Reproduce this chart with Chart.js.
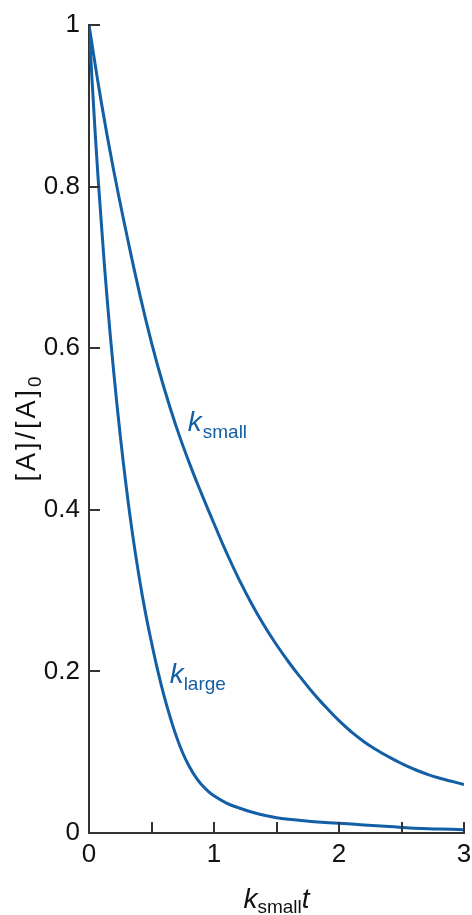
<!DOCTYPE html>
<html>
<head>
<meta charset="utf-8">
<script src="https://cdn.jsdelivr.net/npm/chart.js@4"></script>
<style>
  html, body { margin: 0; padding: 0; background: #fff; }
  #wrap { width: 472px; height: 915px; position: relative; }
</style>
</head>
<body>
<div id="wrap"><canvas id="c"></canvas></div>
<script>
// ---- data ----
const xSmall = [0, 0.1, 0.2, 0.3, 0.4, 0.5, 0.6, 0.7, 0.8, 0.9, 1.0, 1.1, 1.2, 1.3, 1.4, 1.5, 1.6, 1.7, 1.8, 1.9, 2.0, 2.1, 2.2, 2.3, 2.4, 2.5, 2.6, 2.7, 2.8, 2.9, 3.0];
const ySmall = [1.0, 0.903, 0.818, 0.742, 0.671, 0.607, 0.551, 0.502, 0.459, 0.420, 0.383, 0.347, 0.314, 0.284, 0.257, 0.233, 0.211, 0.191, 0.172, 0.155, 0.139, 0.125, 0.113, 0.103, 0.094, 0.086, 0.079, 0.073, 0.068, 0.064, 0.06];

const xLarge = [0, 0.05, 0.1, 0.15, 0.2, 0.25, 0.3, 0.35, 0.4, 0.45, 0.5, 0.55, 0.6, 0.65, 0.7, 0.75, 0.8, 0.85, 0.9, 0.95, 1.0, 1.1, 1.2, 1.3, 1.4, 1.5, 1.6, 1.8, 2.0, 2.2, 2.4, 2.6, 2.8, 3.0];
const yLarge = [1.0, 0.865, 0.752, 0.652, 0.567, 0.492, 0.426, 0.368, 0.318, 0.274, 0.236, 0.201, 0.170, 0.143, 0.119, 0.099, 0.083, 0.070, 0.060, 0.052, 0.046, 0.037, 0.031, 0.026, 0.022, 0.019, 0.017, 0.014, 0.012, 0.010, 0.008, 0.006, 0.005, 0.004];

const yTicks = [0, 0.2, 0.4, 0.6, 0.8, 1];
const xTicks = [0, 0.5, 1, 1.5, 2, 2.5, 3];
const xTickLabels = [0, 1, 2, 3];
const seriesNames = ['small', 'large'];

const BLUE = '#135fa5';
const AXIS = '#333333';
const FONT = '"Liberation Sans", Arial, Helvetica, sans-serif';

function pts(xs, ys) { return xs.map((x, i) => ({ x: x, y: ys[i] })); }

function drawRich(ctx, parts, x, y) {
  let cx = x;
  parts.forEach(p => {
    ctx.font = p.font;
    ctx.letterSpacing = p.ls || '0px';
    ctx.fillText(p.text, cx, y + (p.dy || 0));
    cx += ctx.measureText(p.text).width + (p.gap || 0);
  });
  ctx.letterSpacing = '0px';
  return cx - x;
}
function richWidth(ctx, parts) {
  let w = 0;
  parts.forEach(p => {
    ctx.font = p.font;
    ctx.letterSpacing = p.ls || '0px';
    w += ctx.measureText(p.text).width + (p.gap || 0);
  });
  ctx.letterSpacing = '0px';
  return w;
}

const decor = {
  id: 'decor',
  afterDraw(chart) {
    const ctx = chart.ctx;
    const xs = chart.scales.x, ys = chart.scales.y;
    const ca = chart.chartArea;
    ctx.save();
    // inward tick marks
    ctx.strokeStyle = AXIS;
    ctx.lineWidth = 2;
    ys.ticks.forEach(t => {
      const py = Math.round(ys.getPixelForValue(t.value));
      ctx.beginPath(); ctx.moveTo(ca.left, py); ctx.lineTo(ca.left + 11, py); ctx.stroke();
    });
    xs.ticks.forEach(t => {
      const px = Math.round(xs.getPixelForValue(t.value));
      ctx.beginPath(); ctx.moveTo(px, ca.bottom); ctx.lineTo(px, ca.bottom - 11); ctx.stroke();
    });

    // series labels
    ctx.fillStyle = BLUE;
    ctx.textBaseline = 'alphabetic';
    ctx.textAlign = 'left';
    drawRich(ctx, [
      { text: 'k', font: 'italic 28px ' + FONT, gap: 1 },
      { text: seriesNames[0], font: '19px ' + FONT, dy: 7 }
    ], xs.getPixelForValue(0.79), ys.getPixelForValue(0.497));
    drawRich(ctx, [
      { text: 'k', font: 'italic 28px ' + FONT, gap: 0 },
      { text: seriesNames[1], font: '19px ' + FONT, dy: 7 }
    ], xs.getPixelForValue(0.645), ys.getPixelForValue(0.186));

    // x axis title
    ctx.fillStyle = '#111';
    const xt = [
      { text: 'k', font: 'italic 28px ' + FONT, gap: 0 },
      { text: 'small', font: '19px ' + FONT, dy: 5 },
      { text: 't', font: 'italic 28px ' + FONT }
    ];
    const cxm = (ca.left + ca.right) / 2;
    drawRich(ctx, xt, cxm - richWidth(ctx, xt) / 2, 908);

    // y axis title (rotated)
    const yt = [
      { text: '[A]/[A]', font: '27px ' + FONT, ls: '3px' },
      { text: '0', font: '19px ' + FONT, dy: 6 }
    ];
    ctx.translate(35, (ca.top + ca.bottom) / 2);
    ctx.rotate(-Math.PI / 2);
    drawRich(ctx, yt, -richWidth(ctx, yt) / 2, 0);
    ctx.restore();
  }
};

new Chart(document.getElementById('c'), {
  type: 'scatter',
  data: {
    datasets: [
      { label: 'k_small', data: pts(xSmall, ySmall), showLine: true, borderColor: BLUE, borderWidth: 3,
        pointRadius: 0, tension: 0.5, fill: false },
      { label: 'k_large', data: pts(xLarge, yLarge), showLine: true, borderColor: BLUE, borderWidth: 3,
        pointRadius: 0, tension: 0.5, fill: false }
    ]
  },
  options: {
    responsive: true,
    maintainAspectRatio: false,
    animation: false,
    layout: { padding: { top: 25, right: 0, left: 0, bottom: 0 } },
    plugins: { legend: { display: false }, tooltip: { enabled: false } },
    scales: {
      x: {
        type: 'linear', min: 0, max: 3,
        afterFit(s) { s.height = 82; s.paddingRight = 8; s.paddingLeft = 0; },
        afterBuildTicks(s) { s.ticks = xTicks.map(v => ({ value: v })); },
        ticks: {
          autoSkip: false, maxRotation: 0, padding: 6, color: '#111',
          font: { size: 26, family: FONT },
          callback: v => (xTickLabels.includes(v) ? String(v) : '')
        },
        grid: { display: false, drawTicks: false },
        border: { display: true, color: AXIS, width: 2 }
      },
      y: {
        type: 'linear', min: 0, max: 1,
        afterFit(s) { s.width = 89; },
        afterBuildTicks(s) { s.ticks = yTicks.map(v => ({ value: v })); },
        ticks: {
          padding: 9, color: '#111',
          font: { size: 26, family: FONT },
          callback: v => String(v)
        },
        grid: { display: false, drawTicks: false },
        border: { display: true, color: AXIS, width: 2 }
      }
    }
  },
  plugins: [decor]
});
</script>
</body>
</html>
